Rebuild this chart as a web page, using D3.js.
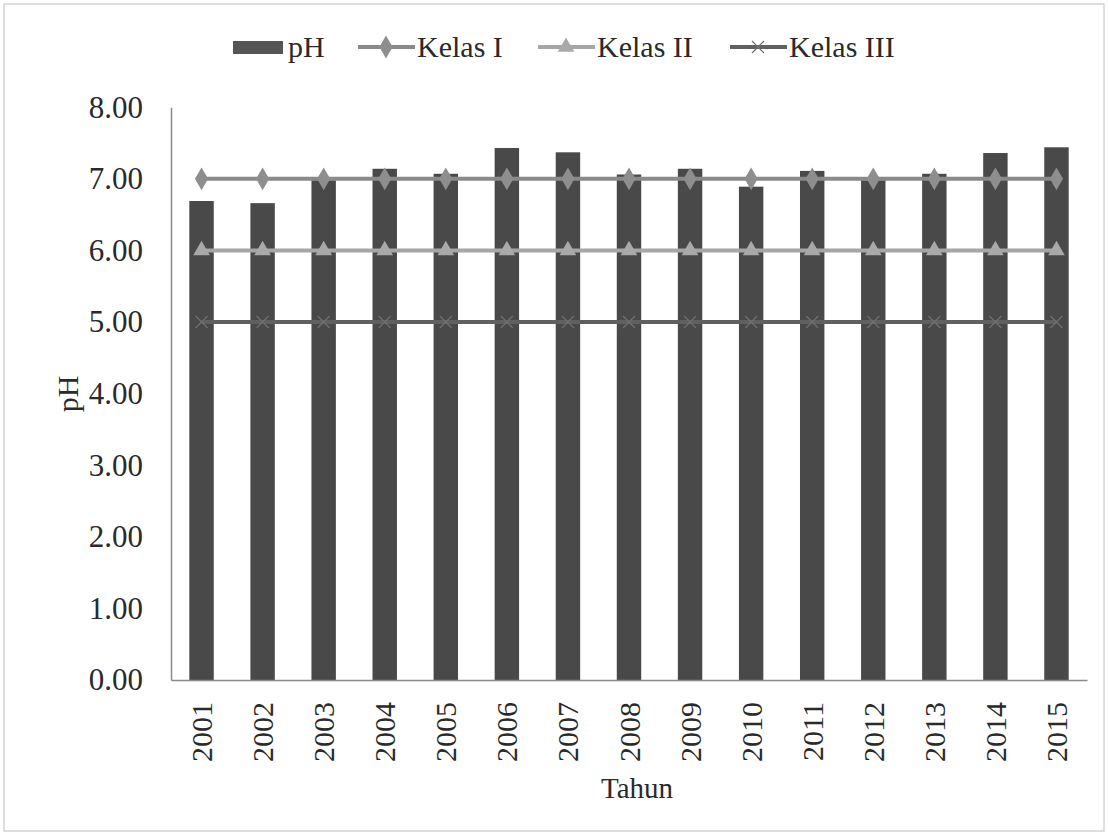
<!DOCTYPE html>
<html><head><meta charset="utf-8">
<script src="https://cdn.jsdelivr.net/npm/d3@7"></script>
<style>body{margin:0;background:#fff}svg{display:block}</style>
</head><body>
<script>
const years = ["2001","2002","2003","2004","2005","2006","2007","2008","2009","2010","2011","2012","2013","2014","2015"];
const phValues = [6.69,6.66,6.98,7.14,7.07,7.43,7.37,7.06,7.14,6.89,7.11,6.98,7.07,7.36,7.44];
const kelasI = [7,7,7,7,7,7,7,7,7,7,7,7,7,7,7];
const kelasII = [6,6,6,6,6,6,6,6,6,6,6,6,6,6,6];
const kelasIII = [5,5,5,5,5,5,5,5,5,5,5,5,5,5,5];
const yTicks = [0,1,2,3,4,5,6,7,8];

const W=1109,H=836;
const m={l:171,r:1087,b:680};
const font="'Liberation Serif','Times New Roman',serif";
const svg=d3.select("body").append("svg").attr("width",W).attr("height",H);
svg.append("rect").attr("x",4).attr("y",4).attr("width",W-9).attr("height",H-9).attr("fill","#fff").attr("stroke","#d4d4d4").attr("stroke-width",1.5);

const x=d3.scaleBand().domain(years).range([m.l,m.r]).paddingInner(0.6).paddingOuter(0.3);
const y=d3.scaleLinear().domain([0,8]).range([m.b,m.b-8*71.6]);

// bars
svg.append("g").selectAll("rect").data(years).join("rect")
 .attr("x",d=>x(d)).attr("width",x.bandwidth())
 .attr("y",(d,i)=>y(phValues[i])).attr("height",(d,i)=>y(0)-y(phValues[i]))
 .attr("fill","#494949");

// axes
const ya=d3.axisLeft(y).tickValues(yTicks).tickFormat(d3.format(".2f")).tickSize(0).tickPadding(28);
const gy=svg.append("g").attr("transform",`translate(${m.l},0)`).call(ya);
gy.select(".domain").attr("stroke","#8a8a8a").attr("stroke-width",1.5);
gy.selectAll("text").attr("font-family",font).attr("font-size",31).attr("fill","#2a2a2a");

const xa=d3.axisBottom(x).tickSize(0).tickPadding(0);
const gx=svg.append("g").attr("transform",`translate(0,${m.b})`).call(xa);
gx.select(".domain").attr("stroke","#8a8a8a").attr("stroke-width",1.5);
gx.selectAll("text").attr("font-family",font).attr("font-size",30).attr("fill","#2a2a2a")
 .attr("transform","rotate(-90)").attr("text-anchor","end").attr("x",-22).attr("y",0).attr("dy","0.35em");

const cx=d=>x(d)+x.bandwidth()/2;
const line=vals=>d3.line().x((d,i)=>cx(years[i])).y(d=>y(d))(vals);

// Kelas III
svg.append("path").attr("d",line(kelasIII)).attr("fill","none").attr("stroke","#606060").attr("stroke-width",4);
svg.append("g").selectAll("path").data(kelasIII).join("path")
 .attr("d",(d,i)=>{const X=cx(years[i]),Y=y(d),s=6;return `M${X-s},${Y-s}L${X+s},${Y+s}M${X-s},${Y+s}L${X+s},${Y-s}`;})
 .attr("stroke","#707070").attr("stroke-width",1.2);
// Kelas II
svg.append("path").attr("d",line(kelasII)).attr("fill","none").attr("stroke","#a6a6a6").attr("stroke-width",4);
svg.append("g").selectAll("path").data(kelasII).join("path")
 .attr("transform",(d,i)=>`translate(${cx(years[i])},${y(d)})`)
 .attr("d",d3.symbol(d3.symbolTriangle,120)).attr("fill","#a9a9a9");
// Kelas I
svg.append("path").attr("d",line(kelasI)).attr("fill","none").attr("stroke","#8a8a8a").attr("stroke-width",4);
svg.append("g").selectAll("path").data(kelasI).join("path")
 .attr("transform",(d,i)=>`translate(${cx(years[i])},${y(d)})`)
 .attr("d",d3.symbol(d3.symbolDiamond,150)).attr("fill","#8e8e8e");

// titles
svg.append("text").attr("x",637).attr("y",798).attr("text-anchor","middle").attr("font-family",font).attr("font-size",29).attr("fill","#2a2a2a").text("Tahun");
svg.append("text").attr("transform","translate(78,394) rotate(-90)").attr("text-anchor","middle").attr("font-family",font).attr("font-size",30).attr("fill","#2a2a2a").text("pH");

// legend
const lg=svg.append("g").attr("font-family",font).attr("font-size",30).attr("fill","#2a2a2a");
const ly=47;
lg.append("rect").attr("x",233).attr("y",ly-6).attr("width",50).attr("height",13).attr("fill","#555");
lg.append("text").attr("x",288).attr("y",ly+10).text("pH");
const items=[{x:358,label:"Kelas I",c:"#8a8a8a",sym:"d"},{x:538,label:"Kelas II",c:"#a6a6a6",sym:"t"},{x:730,label:"Kelas III",c:"#606060",sym:"x"}];
items.forEach(it=>{
 lg.append("line").attr("x1",it.x).attr("x2",it.x+57).attr("y1",ly).attr("y2",ly).attr("stroke",it.c).attr("stroke-width",4);
 const X=it.x+28;
 if(it.sym==="d") lg.append("path").attr("transform",`translate(${X},${ly})`).attr("d",d3.symbol(d3.symbolDiamond,150)).attr("fill","#8e8e8e");
 if(it.sym==="t") lg.append("path").attr("transform",`translate(${X},${ly})`).attr("d",d3.symbol(d3.symbolTriangle,120)).attr("fill","#a9a9a9");
 if(it.sym==="x") lg.append("path").attr("d",`M${X-6},${ly-6}L${X+6},${ly+6}M${X-6},${ly+6}L${X+6},${ly-6}`).attr("stroke","#707070").attr("stroke-width",1.2);
 lg.append("text").attr("x",it.x+59).attr("y",ly+10).text(it.label);
});
</script>
</body></html>
